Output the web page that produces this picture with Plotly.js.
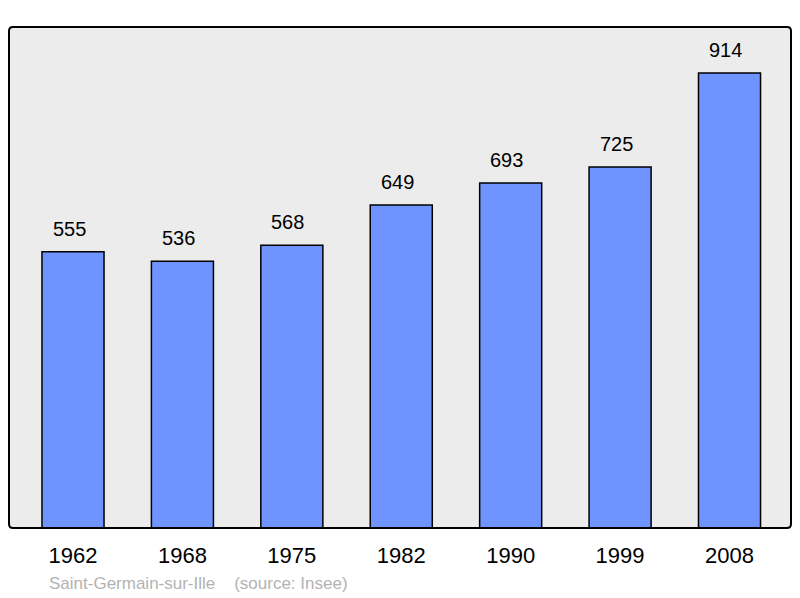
<!DOCTYPE html>
<html><head><meta charset="utf-8">
<script src="https://cdn.plot.ly/plotly-3.0.1.min.js"></script>
<style>body{margin:0;background:#fff}#c{width:800px;height:598px}</style>
</head><body><div id="c"></div>
<script>
const years = ["1962","1968","1975","1982","1990","1999","2008"];
const population = [555,536,568,649,693,725,914];
const sourceText = "Saint-Germain-sur-Ille    (source: Insee)";

const trace = {
  type: 'bar', x: years, y: population, width: 0.567,
  marker: {color: '#7094ff', line: {color: '#000', width: 1.5}},
  hoverinfo: 'none'
};
const annotations = years.map((yr, i) => ({
  x: i, y: population[i], xref: 'x', yref: 'y', text: String(population[i]),
  showarrow: false, yanchor: 'bottom', yshift: 10, xshift: -4,
  font: {family: 'Liberation Sans, Arial, sans-serif', size: 20, color: '#000'}
}));
annotations.push({
  xref: 'paper', yref: 'paper', x: 0, y: 0, xanchor: 'left', yanchor: 'middle',
  xshift: 38, yshift: -55, text: sourceText.replace(/ /g, '&nbsp;'), showarrow: false,
  font: {family: 'Liberation Sans, Arial, sans-serif', size: 17, color: '#b3b3b3'}
});
// rounded frame (radius ~4px) in paper coordinates
const rx = 4/782, ry = 4/501;
const framePath = `M ${rx},0 L ${1-rx},0 Q 1,0 1,${ry} L 1,${1-ry} Q 1,1 ${1-rx},1 L ${rx},1 Q 0,1 0,${1-ry} L 0,${ry} Q 0,0 ${rx},0 Z`;
const layout = {
  width: 800, height: 598,
  margin: {l: 9, r: 9, t: 27, b: 70, pad: 0},
  paper_bgcolor: '#fff', plot_bgcolor: '#ececec',
  showlegend: false,
  xaxis: {type: 'category', range: [-0.585, 6.562], showgrid: false, zeroline: false,
    showline: false, ticks: 'outside', ticklen: 8, tickcolor: 'rgba(0,0,0,0)',
    tickfont: {family: 'Liberation Sans, Arial, sans-serif', size: 22, color: '#000'}},
  yaxis: {range: [0, 1006.4], showgrid: false, zeroline: false, showticklabels: false, showline: false, ticks: ''},
  shapes: [
    {type: 'rect', xref: 'paper', yref: 'paper', x0: -0.002, x1: 1.002, y0: -0.003, y1: 1.003,
      line: {width: 0}, fillcolor: 'rgba(0,0,0,0)', layer: 'above'},
    {type: 'path', xref: 'paper', yref: 'paper', path: framePath,
      line: {color: '#000', width: 2}, layer: 'above'}],
  annotations: annotations
};
Plotly.newPlot('c', [trace], layout, {staticPlot: true});
</script></body></html>
